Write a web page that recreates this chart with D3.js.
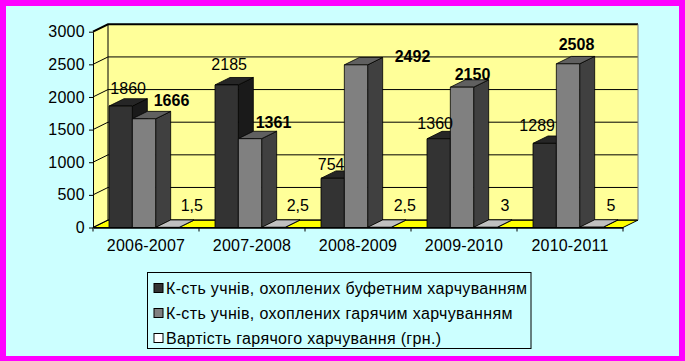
<!DOCTYPE html>
<html>
<head>
<meta charset="utf-8">
<script src="https://cdn.jsdelivr.net/npm/d3@7"></script>
<style>
  body { margin: 0; background: #ff00ff; }
  svg { display: block; font-family: "Liberation Sans", Arial, sans-serif; }
</style>
</head>
<body>
<div id="chart"></div>
<script>
// data
var years = ["2006-2007", "2007-2008", "2008-2009", "2009-2010", "2010-2011"];
var buffetPupils = [1860, 2185, 754, 1360, 1289];
var hotPupils = [1666, 1361, 2492, 2150, 2508];
var hotMealCost = [1.5, 2.5, 2.5, 3, 5];
var seriesNames = [
  "К-сть учнів, охоплених буфетним харчуванням",
  "К-сть учнів, охоплених гарячим харчуванням",
  "Вартість гарячого харчування (грн.)"
];
var yTicks = [0, 500, 1000, 1500, 2000, 2500, 3000];

var series = [buffetPupils, hotPupils, hotMealCost];

var svgWidth = 685;
var svgHeight = 361;

// 3d look: depth offset of the back plane
var DX = 15, DY = -7.4;

var colors = [
  { front: "#333333", top: "#262626", side: "#1a1a1a" },
  { front: "#808080", top: "#606060", side: "#404040" },
  { front: "#ffffff", top: "#c0c0c0", side: "#808080" }
];
var legendFill = ["#333333", "#808080", "#ffffff"];

// label nudges (the labels in the original were dragged by hand)
var labelDx = [[0, -5, -9, -11, -15], [20, 16, 49, 3, 1], [17, 17, 18, 12, 12]];
var labelDy = [[-5, -7, -1, -2, -5], [-5, -3, 5, 0, -6], [-9, -9, -9, -9, -9]];

var svg = d3.select("#chart")
  .append("svg")
  .attr("width", svgWidth)
  .attr("height", svgHeight);

// magenta frame + cyan background
svg.append("rect")
  .attr("width", svgWidth).attr("height", svgHeight)
  .attr("fill", "#ff00ff");
svg.append("rect")
  .attr("x", 6).attr("y", 6)
  .attr("width", 673).attr("height", 350)
  .attr("fill", "#ccffff");

var x = d3.scaleBand()
  .domain(years)
  .range([93, 623]);

var xs = d3.scaleBand()
  .domain([0, 1, 2])
  .range([16, 86]);

var y = d3.scaleLinear()
  .domain([0, 3000])
  .range([227.5, 31.7]);

var x0 = x.range()[0], x1 = x.range()[1];
var yTop = y(3000), yBot = y(0);

var walls = svg.append("g");

// side wall
walls.append("polygon")
  .attr("points", [[x0, yBot], [x0, yTop], [x0 + DX, yTop + DY], [x0 + DX, yBot + DY]].join(" "))
  .attr("fill", "#ffff99");

// back wall
walls.append("rect")
  .attr("x", x0 + DX).attr("y", yTop + DY)
  .attr("width", x1 - x0).attr("height", yBot - yTop)
  .attr("fill", "#ffff99");

// floor
walls.append("polygon")
  .attr("points", [[x0, yBot], [x1, yBot], [x1 + DX, yBot + DY], [x0 + DX, yBot + DY]].join(" "))
  .attr("fill", "#ffff00")
  .attr("stroke", "#000")
  .attr("stroke-width", 1);

// gridlines
yTicks.forEach(function(t) {
  walls.append("polyline")
    .attr("points", [[x0, y(t)], [x0 + DX, y(t) + DY], [x1 + DX, y(t) + DY]].join(" "))
    .attr("fill", "none")
    .attr("stroke", "#000")
    .attr("stroke-width", t == 3000 ? 2 : 1);
});

walls.append("line")
  .attr("x1", x0 + DX).attr("x2", x0 + DX)
  .attr("y1", yBot + DY).attr("y2", yTop + DY)
  .attr("stroke", "#000");
walls.append("line")
  .attr("x1", x1 + DX).attr("x2", x1 + DX)
  .attr("y1", yBot + DY).attr("y2", yTop + DY)
  .attr("stroke", "#808080");

// bars, left to right so the next bar hides the side of the previous one
var bars = svg.append("g");
var bw = xs.bandwidth();

years.forEach(function(year, i) {
  series.forEach(function(vals, s) {
    var xl = x(year) + xs(s);
    var xr = xl + bw;
    var yt = y(vals[i]);
    var g = bars.append("g")
      .attr("stroke", "#000")
      .attr("stroke-width", 0.8)
      .attr("stroke-linejoin", "round");
    g.append("polygon")
      .attr("points", [[xr, yt], [xr + DX, yt + DY], [xr + DX, yBot + DY], [xr, yBot]].join(" "))
      .attr("fill", colors[s].side);
    g.append("polygon")
      .attr("points", [[xl, yt], [xr, yt], [xr + DX, yt + DY], [xl + DX, yt + DY]].join(" "))
      .attr("fill", colors[s].top);
    g.append("rect")
      .attr("x", xl).attr("y", yt)
      .attr("width", bw).attr("height", yBot - yt)
      .attr("fill", colors[s].front);
  });
});

// y axis
var yAxis = svg.append("g")
  .attr("transform", "translate(" + x0 + ",0)")
  .call(d3.axisLeft(y).tickValues(yTicks).tickFormat(d3.format("d"))
    .tickSize(4).tickSizeOuter(0).tickPadding(4));
yAxis.selectAll("text")
  .attr("font-size", 16)
  .attr("font-family", "Liberation Sans, Arial, sans-serif")
  .attr("letter-spacing", 0.3)
  .attr("fill", "#000");
yAxis.select(".domain").attr("stroke", "#000");

// x axis: labels in the middle, ticks on the category boundaries
var xAxis = svg.append("g")
  .attr("transform", "translate(0," + yBot + ")")
  .call(d3.axisBottom(x).tickSize(0).tickPadding(12).tickSizeOuter(0));
xAxis.select(".domain").attr("stroke", "#000").attr("stroke-width", 1.5);
xAxis.selectAll("text")
  .attr("font-size", 16)
  .attr("font-family", "Liberation Sans, Arial, sans-serif")
  .attr("letter-spacing", 0.2)
  .attr("fill", "#000");

var bounds = years.map(function(c) { return x(c); }).concat([x1]);
xAxis.selectAll(".bound")
  .data(bounds)
  .enter()
  .append("line")
  .attr("class", "bound")
  .attr("x1", function(d) { return d; })
  .attr("x2", function(d) { return d; })
  .attr("y1", 0).attr("y2", 4)
  .attr("stroke", "#000");

// data labels
var labels = svg.append("g")
  .attr("font-size", 16)
  .attr("text-anchor", "middle")
  .attr("fill", "#000");

series.forEach(function(vals, s) {
  labels.selectAll(".lab" + s)
    .data(vals)
    .enter()
    .append("text")
    .attr("class", "lab" + s)
    .attr("font-weight", s == 1 ? "bold" : "normal")
    .attr("x", function(d, i) { return x(years[i]) + xs(s) + bw / 2 + DX / 2 + labelDx[s][i]; })
    .attr("y", function(d, i) { return y(d) + DY + labelDy[s][i]; })
    .text(function(d) { return String(d).replace(".", ","); });
});

// legend
var legend = svg.append("g");
legend.append("rect")
  .attr("x", 147.5).attr("y", 272.5)
  .attr("width", 383.5).attr("height", 76)
  .attr("fill", "none")
  .attr("stroke", "#000");

var item = legend.selectAll(".item")
  .data(seriesNames)
  .enter()
  .append("g")
  .attr("class", "item")
  .attr("transform", function(d, i) { return "translate(154," + (283.5 + i * 25) + ")"; });

item.append("rect")
  .attr("width", 9).attr("height", 9)
  .attr("fill", function(d, i) { return legendFill[i]; })
  .attr("stroke", "#000");

item.append("text")
  .attr("x", 12)
  .attr("y", 4.5)
  .attr("dy", "0.36em")
  .attr("font-size", 16)
  .attr("letter-spacing", 0.35)
  .attr("fill", "#000")
  .text(function(d) { return d; });
</script>
</body>
</html>
